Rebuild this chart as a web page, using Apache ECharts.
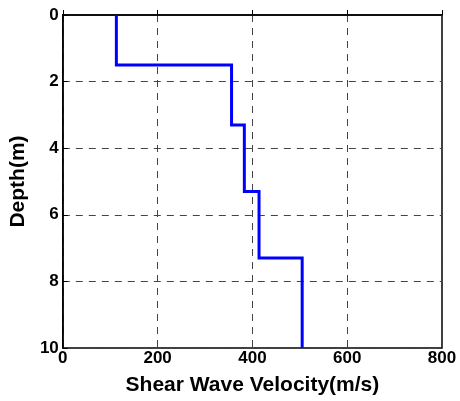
<!DOCTYPE html>
<html>
<head>
<meta charset="utf-8">
<script src="https://cdn.jsdelivr.net/npm/echarts@6/dist/echarts.min.js"></script>
<style>
    html,body{margin:0;padding:0;background:#fff;}
    #vsProfile{width:460px;height:401px;}
</style>
</head>
<body>
<div id="vsProfile"></div>
<script>
    // layer velocities (m/s) and layer boundaries (m)
    var velocities = [113, 356, 383, 414, 505];
    var depths = [0, 1.5, 3.3, 5.3, 7.3, 10];

    // step profile: each layer goes from its top depth to its bottom depth
    var stepData = [];
    for (var i = 0; i < velocities.length; i++) {
        stepData.push([velocities[i], depths[i]]);
        stepData.push([velocities[i], depths[i + 1]]);
    }

    var labelFont = {color: '#000', fontFamily: 'Liberation Sans', fontWeight: 'bold', fontSize: 17};
    var nameFont = {color: '#000', fontFamily: 'Liberation Sans', fontWeight: 'bold', fontSize: 21};

    var chart = echarts.init(document.getElementById('vsProfile'));
    chart.setOption({
        animation: false,
        grid: {
            left: 62, right: 18, top: 15, bottom: 53,
            show: true, borderColor: '#000', borderWidth: 1.5, backgroundColor: '#fff'
        },
        xAxis: {
            type: 'value', min: 0, max: 800, interval: 200,
            name: 'Shear Wave Velocity(m/s)', nameLocation: 'middle', nameGap: 27,
            nameTextStyle: nameFont,
            axisLine: {show: true, lineStyle: {color: '#000', width: 1.5}},
            axisTick: {show: true, inside: true, length: 5, lineStyle: {color: '#000'}},
            axisLabel: Object.assign({margin: 2}, labelFont),
            splitLine: {show: true, lineStyle: {color: '#444', type: [7, 6], width: 1}}
        },
        yAxis: {
            type: 'value', min: 0, max: 10, interval: 2, inverse: true,
            name: 'Depth(m)', nameLocation: 'middle', nameGap: 29,
            nameTextStyle: nameFont,
            axisLine: {show: true, lineStyle: {color: '#000', width: 1.5}},
            axisTick: {show: true, inside: true, length: 5, lineStyle: {color: '#000'}},
            axisLabel: Object.assign({margin: 4}, labelFont),
            splitLine: {show: true, lineStyle: {color: '#444', type: [7, 6], width: 1}}
        },
        series: [{
            type: 'line',
            data: stepData,
            showSymbol: false,
            lineStyle: {color: '#0000ff', width: 3, join: 'miter'}
        }]
    });
</script>
</body>
</html>
